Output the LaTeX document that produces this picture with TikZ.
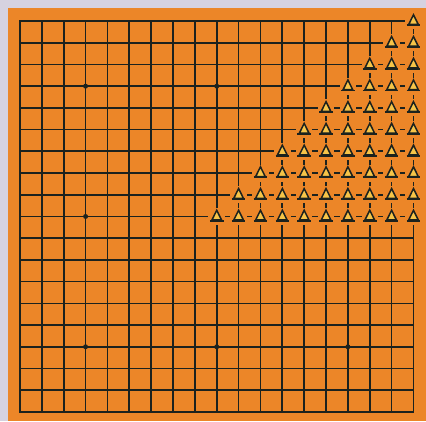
\documentclass[tikz,border=0pt]{standalone}
\usepackage{tikz}
\usetikzlibrary{shapes.geometric}
\usepackage{xcolor}
\definecolor{board}   {RGB}{236,134,40}
\definecolor{paper}   {RGB}{214,210,224}
\definecolor{gridline}{RGB}{28,34,30}
\definecolor{markfill}{RGB}{246,196,72}

\begin{document}
\begin{tikzpicture}[x=1pt,y=1pt,
    gridln/.style={gridline,line width=1.7pt,line cap=rect},
    hoshi/.style={circle,fill=gridline,inner sep=0pt,minimum size=5pt},
    trimark/.style={rectangle,fill=board,inner sep=0pt,
      minimum width=16.5pt,minimum height=17pt,
      path picture={
        \draw[shift={(path picture bounding box.center)},gridline,
              line width=1.5pt,fill=markfill,line join=miter]
          (-4.8pt,-3.5pt) -- (0pt,6.2pt) -- (4.8pt,-3.5pt) -- cycle;
        \draw[shift={(path picture bounding box.center)},gridline,line width=1.8pt]
          (-6.8pt,-4.3pt) -- (6.8pt,-4.3pt);
      }}]
  \useasboundingbox[fill=paper] (0,0) rectangle (426,421);
  \fill[board] (8,0) rectangle (426,413);
  % 19x19 grid
  \foreach \i [evaluate=\i as \xx using 20+(\i-1)*21.86,
               evaluate=\i as \yy using 400-(\i-1)*21.72] in {1,...,19} {
    \draw[gridln] (\xx,9.04) -- (\xx,400);
    \draw[gridln] (20,\yy) -- (413.48,\yy);
  }
  % star points
  \foreach \c/\r in {4/4,4/10,4/16,10/4,10/16,16/16}
    \node[hoshi] (h-\c-\r) at ({20+(\c-1)*21.86},{400-(\r-1)*21.72}) {};
  % marked points, upper right corner
  \foreach \r in {1,...,10} {
    \pgfmathtruncatemacro\cs{20-\r}
    \foreach \c in {\cs,...,19}
      \node[trimark] (t-\c-\r) at ({20+(\c-1)*21.86},{400-(\r-1)*21.72}) {};
  }
\end{tikzpicture}
\end{document}
